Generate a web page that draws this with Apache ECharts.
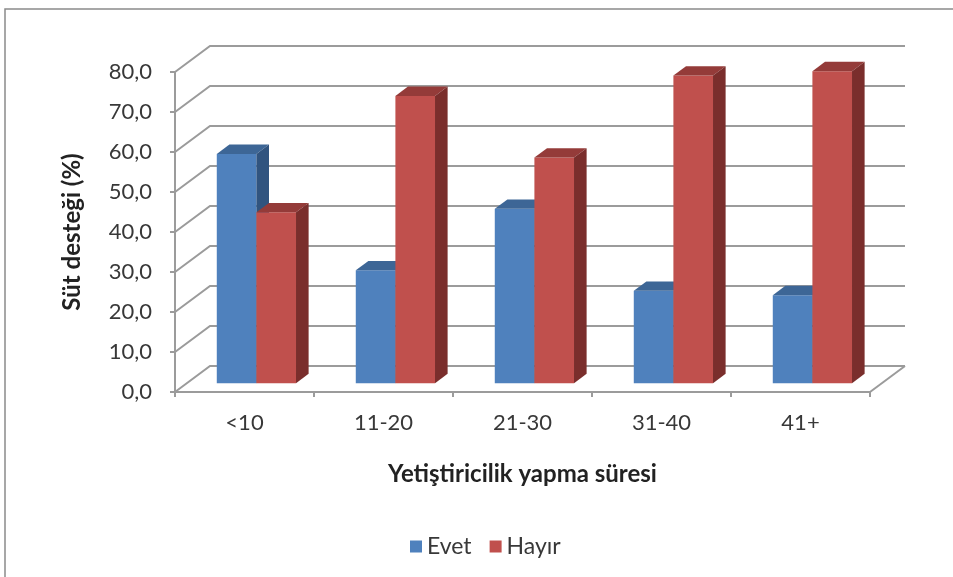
<!DOCTYPE html>
<html>
<head>
<meta charset="utf-8">
<script src="https://cdn.jsdelivr.net/npm/echarts@6/dist/echarts.min.js"></script>
<style>
  html, body { margin: 0; padding: 0; background: #fff; }
  #chart { width: 953px; height: 577px; }
</style>
</head>
<body>
<div id="chart"></div>
<script>
const categories = ['<10', '11-20', '21-30', '31-40', '41+'];
const evet = [57.3, 28.2, 43.6, 23.1, 22.0];
const hayir = [42.7, 71.8, 56.4, 76.9, 78.0];
const gridTicks = [0, 10, 20, 30, 40, 50, 60, 70, 80];

// depth of the fake 3D box, in px
const DEPTH_X = 35, DEPTH_Y = 26;
// bars sit between these fractions of the depth
const BAR_FRONT = 0.34, BAR_BACK = 0.70;
const BAR_W = 0.285; // share of category width for one bar

const FONT = 'Lato, "Noto Sans", sans-serif';
const LINE = '#9b9b9b';
const TEXT = '#383838';

const COLORS = {
    evet: { front: '#4F81BD', top: '#3D6696', side: '#31547F' },
    hayir: { front: '#C0504D', top: '#943B39', side: '#7A2E2C' }
};

// back wall lines + floor edges
function renderWall(params, api) {
    const cs = params.coordSys;
    const v = api.value(1);
    const y = api.coord([0, v])[1];
    const left = cs.x, right = cs.x + cs.width;
    const children = [{
        type: 'polyline',
        shape: { points: [[left, y], [left + DEPTH_X, y - DEPTH_Y], [right + DEPTH_X, y - DEPTH_Y]] },
        style: { stroke: LINE, lineWidth: 2, fill: null }
    }];
    if (v === 0) {
        children.push({
            type: 'line',
            shape: { x1: right, y1: y, x2: right + DEPTH_X, y2: y - DEPTH_Y },
            style: { stroke: LINE, lineWidth: 2 }
        });
    }
    return { type: 'group', children: children };
}

function makeBar(side, col) {
    return function (params, api) {
        const idx = api.value(0);
        const top = api.coord([idx, api.value(1)]);
        const base = api.coord([idx, 0]);
        const w = api.size([1, 0])[0] * BAR_W;
        const x0 = top[0] + (side < 0 ? -w : 0);
        const fx = DEPTH_X * BAR_FRONT, fy = DEPTH_Y * BAR_FRONT;
        const bx = DEPTH_X * (BAR_BACK - BAR_FRONT), by = DEPTH_Y * (BAR_BACK - BAR_FRONT);
        const L = x0 + fx, R = x0 + w + fx, T = top[1] - fy, B = base[1] - fy;
        return {
            type: 'group',
            children: [
                { type: 'polygon', shape: { points: [[L, T], [R, T], [R, B], [L, B]] }, style: { fill: col.front } },
                { type: 'polygon', shape: { points: [[L, T], [L + bx, T - by], [R + bx, T - by], [R, T]] }, style: { fill: col.top } },
                { type: 'polygon', shape: { points: [[R, T], [R + bx, T - by], [R + bx, B - by], [R, B]] }, style: { fill: col.side } }
            ]
        };
    };
}

const chart = echarts.init(document.getElementById('chart'));

chart.setOption({
    animation: false,
    backgroundColor: '#fff',
    textStyle: { fontFamily: FONT },
    graphic: [{
        type: 'rect',
        shape: { x: 5, y: 9, width: 1000, height: 1000 },
        style: { fill: null, stroke: '#8a8a8a', lineWidth: 1.5 }
    }],
    grid: { left: 175, right: 83, top: 72, bottom: 185 },
    legend: {
        data: ['Evet', 'Hayır'],
        left: 405,
        top: 530,
        icon: 'rect',
        itemWidth: 12,
        itemHeight: 12,
        itemGap: 18,
        textStyle: { fontFamily: FONT, fontSize: 23, color: TEXT }
    },
    xAxis: {
        type: 'category',
        data: categories,
        axisLine: { lineStyle: { color: LINE, width: 2 } },
        axisTick: { show: true, length: 5, lineStyle: { color: LINE, width: 2 } },
        axisLabel: { fontSize: 22, color: TEXT, margin: 20, fontFamily: FONT },
        name: 'Yetiştiricilik yapma süresi',
        nameLocation: 'middle',
        nameGap: 70,
        nameTextStyle: { fontSize: 24, fontWeight: 'bold', color: '#222', fontFamily: FONT }
    },
    yAxis: {
        type: 'value',
        min: 0,
        max: 80,
        interval: 10,
        axisLine: { show: true, lineStyle: { color: LINE, width: 2 } },
        axisTick: { show: true, length: 5, lineStyle: { color: LINE, width: 2 } },
        splitLine: { show: false },
        axisLabel: {
            fontSize: 22, color: TEXT, margin: 23, fontFamily: FONT,
            formatter: v => v.toFixed(1).replace('.', ',')
        },
        name: 'Süt desteği (%)',
        nameLocation: 'middle',
        nameRotate: 90,
        nameGap: 91,
        nameTextStyle: { fontSize: 24, fontWeight: 'bold', color: '#222', fontFamily: FONT }
    },
    series: [
        {
            type: 'custom',
            name: 'wall',
            renderItem: renderWall,
            data: gridTicks.map(v => [0, v]),
            silent: true,
            z: 1
        },
        {
            type: 'custom',
            name: 'Evet',
            renderItem: makeBar(-1, COLORS.evet),
            itemStyle: { color: COLORS.evet.front },
            data: evet.map((v, i) => [i, v]),
            z: 2
        },
        {
            type: 'custom',
            name: 'Hayır',
            renderItem: makeBar(1, COLORS.hayir),
            itemStyle: { color: COLORS.hayir.front },
            data: hayir.map((v, i) => [i, v]),
            z: 3
        }
    ]
});
</script>
</body>
</html>
